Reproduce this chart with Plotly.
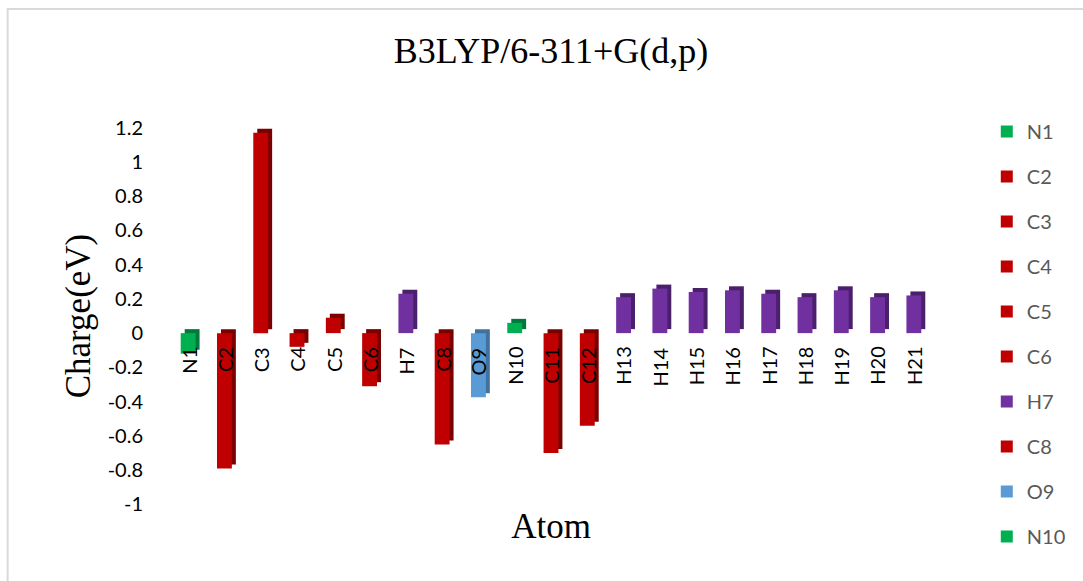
import plotly.graph_objects as go

# ---- data ----
atoms = ["N1", "C2", "C3", "C4", "C5", "C6", "H7", "C8", "O9", "N10",
         "C11", "C12", "H13", "H14", "H15", "H16", "H17", "H18", "H19", "H20", "H21"]
charges = [-0.12, -0.79, 1.17, -0.08, 0.09, -0.31, 0.23, -0.65, -0.375, 0.06,
           -0.70, -0.54, 0.21, 0.26, 0.24, 0.25, 0.23, 0.21, 0.25, 0.21, 0.22]
legend_count = 10
y_ticks = [-1, -0.8, -0.6, -0.4, -0.2, 0, 0.2, 0.4, 0.6, 0.8, 1, 1.2]
y_tick_text = ["-1", "-0.8", "-0.6", "-0.4", "-0.2", "0", "0.2", "0.4", "0.6", "0.8", "1", "1.2"]

# ---- style ----
front_col = {"N": "#00B050", "C": "#C00000", "H": "#7030A0", "O": "#5B9BD5"}
side_col = {"N": "#007A3A", "C": "#7A0000", "H": "#4A1F6C", "O": "#41729E"}

W, H = 1083, 581
ML, MR, MT, MB = 170, 148, 119, 68
y_range = [-1.05, 1.25]
x_range = [-0.5, len(atoms) - 0.5]
pw, ph = W - ML - MR, H - MT - MB
px_per_cat = pw / (x_range[1] - x_range[0])
px_per_unit = ph / (y_range[1] - y_range[0])
depth_x = 4 / px_per_cat
depth_y = 4 / px_per_unit
bar_w = 0.41

fig = go.Figure()

# back (side/depth) faces
for a, v in zip(atoms, charges):
    fig.add_trace(go.Bar(
        x=[a], y=[v], base=[depth_y], width=[bar_w], offset=-bar_w / 2 + depth_x,
        marker=dict(color=side_col[a[0]], line=dict(width=0)),
        showlegend=False, hoverinfo="skip"))

# front faces
for i, (a, v) in enumerate(zip(atoms, charges)):
    fig.add_trace(go.Bar(
        x=[a], y=[v], width=[bar_w], offset=-bar_w / 2, name=a,
        legendgroup=a, showlegend=i < legend_count,
        marker=dict(color=front_col[a[0]], line=dict(width=0))))

# category labels at the zero line
for a in atoms:
    fig.add_annotation(x=a, y=0, xref="x", yref="y", text=a, showarrow=False,
                       textangle=-90, xanchor="center", yanchor="top", yshift=-12,
                       font=dict(family="Lato", size=20, color="#000000"))

def paper_x(px):
    return (px - ML) / pw

def paper_y(py):
    return (H - MB - py) / ph

# chart border (only top and left visible)
fig.add_shape(type="rect", xref="paper", yref="paper",
              x0=paper_x(7), x1=paper_x(1100), y0=paper_y(600), y1=paper_y(9),
              line=dict(color="#D9D9D9", width=2), fillcolor="rgba(0,0,0,0)", layer="below")

fig.update_layout(
    width=W, height=H,
    margin=dict(l=ML, r=MR, t=MT, b=MB),
    paper_bgcolor="white", plot_bgcolor="white",
    barmode="overlay",
    title=dict(text="B3LYP/6-311+G(d,p)", x=0.5, xref="paper", xanchor="center",
               y=1 - 50 / H, yanchor="middle",
               font=dict(family="Liberation Serif", size=36, color="#000000")),
    xaxis=dict(range=x_range, showticklabels=False, showgrid=False, zeroline=False,
               showline=False, ticks="",
               title=dict(text="Atom", standoff=0,
                          font=dict(family="Liberation Serif", size=35, color="#000000"))),
    yaxis=dict(range=y_range, tickvals=y_ticks, ticktext=y_tick_text, showgrid=False,
               zeroline=False, showline=False, ticks="", ticklabelstandoff=26,
               tickfont=dict(family="Lato", size=20, color="#000000"),
               title=dict(text="Charge(eV)", standoff=6,
                          font=dict(family="Liberation Serif", size=35, color="#000000"))),
    legend=dict(x=paper_x(990), xanchor="left", y=paper_y(112), yanchor="top",
                font=dict(family="Lato", size=20, color="#595959"),
                tracegroupgap=16, itemwidth=30, bgcolor="rgba(0,0,0,0)", maxheight=1.0),
    showlegend=True,
)

fig.write_html("out.html")
